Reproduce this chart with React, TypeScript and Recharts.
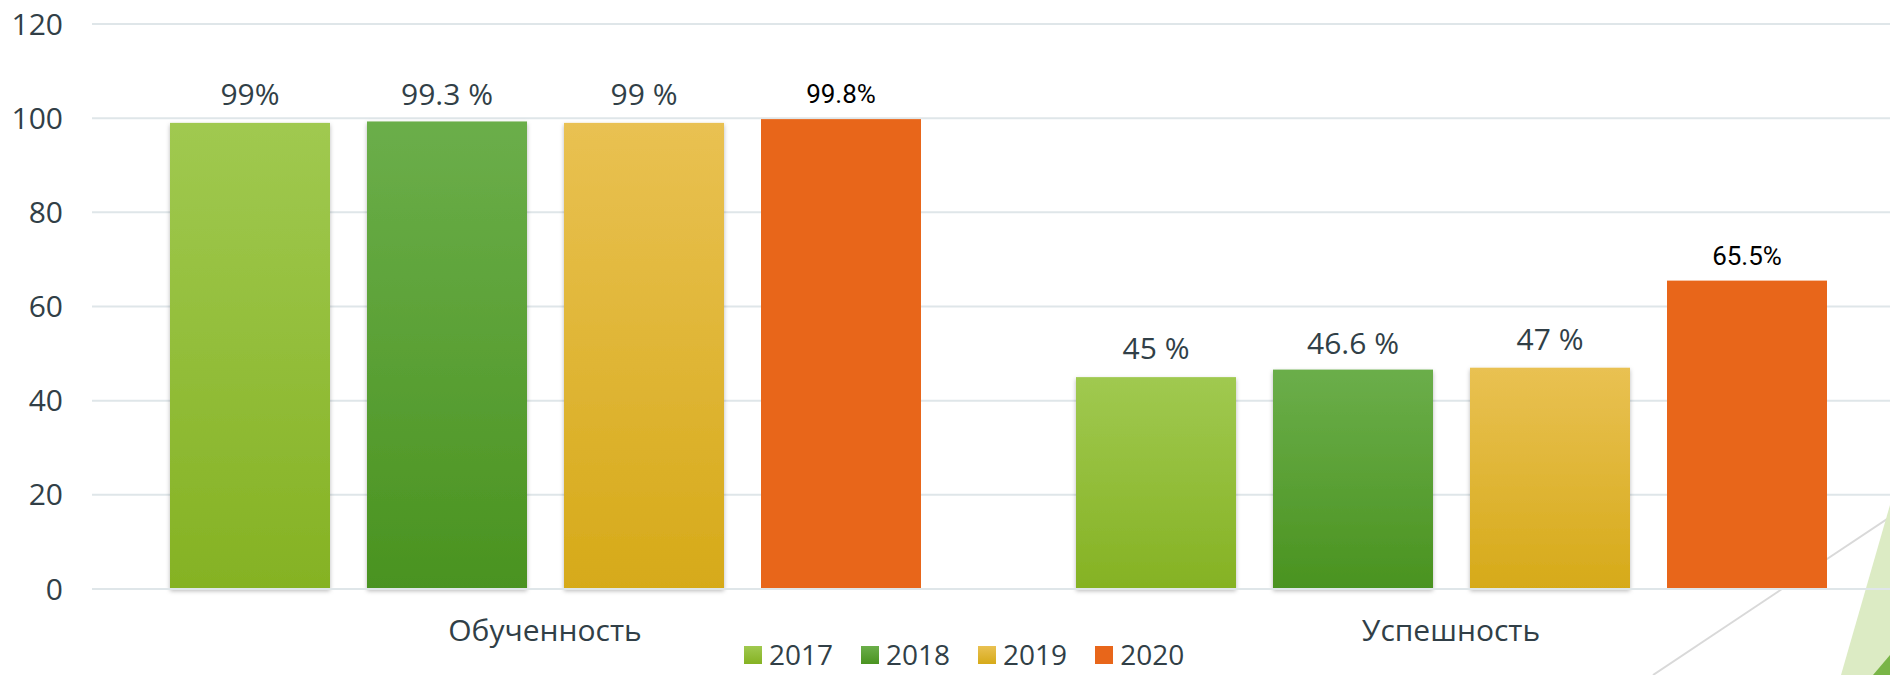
import React from "react";
import { BarChart, Bar, XAxis, YAxis, CartesianGrid, LabelList, Legend } from "recharts";

const categories = ["Обученность", "Успешность"];
const years = ["2017", "2018", "2019", "2020"];
const values2017 = [99, 45];
const values2018 = [99.3, 46.6];
const values2019 = [99, 47];
const values2020 = [99.8, 65.5];
const labels2017 = ["99%", "45 %"];
const labels2018 = ["99.3 %", "46.6 %"];
const labels2019 = ["99 %", "47 %"];
const labels2020 = ["99.8%", "65.5%"];
const yTicks = [0, 20, 40, 60, 80, 100, 120];

const gradients: Record<string, [string, string]> = {
  "2017": ["#a0c950", "#85b223"],
  "2018": ["#6bae4a", "#4a9320"],
  "2019": ["#e9c152", "#d6aa19"],
  "2020": ["#e8661a", "#e8661a"],
};

const data = categories.map((c, i) => ({
  cat: c,
  v2017: values2017[i],
  v2018: values2018[i],
  v2019: values2019[i],
  v2020: values2020[i],
  l2017: labels2017[i],
  l2018: labels2018[i],
  l2019: labels2019[i],
  l2020: labels2020[i],
}));

const TEXT = "#313f47";
const FONT = "'Open Sans', sans-serif";

const makeShape = (shadow: boolean, id: string) => (props: any) => {
  const { x, y, width, height } = props;
  return (
    <rect
      x={x}
      y={y}
      width={width}
      height={height}
      fill={`url(#grad${id})`}
      filter={shadow ? "url(#barShadow)" : undefined}
    />
  );
};

const LegendContent = () => (
  <div style={{ display: "flex", alignItems: "center", height: 28, fontFamily: FONT, fontSize: 28, color: TEXT }}>
    {years.map((y, i) => (
      <div key={y} style={{ display: "flex", alignItems: "center", height: 28, marginRight: i < years.length - 1 ? 28 : 0 }}>
        <div
          style={{
            width: 18,
            height: 18,
            marginRight: 7,
            marginTop: 2,
            background: `linear-gradient(${gradients[y][0]}, ${gradients[y][1]})`,
          }}
        />
        <div style={{ lineHeight: "28px", height: 28 }}>{y}</div>
      </div>
    ))}
  </div>
);

export default function App() {
  return (
    <div style={{ position: "fixed", left: 0, top: 0, width: 1890, height: 675, overflow: "hidden", background: "#fff" }}>
      <svg width={1890} height={675} style={{ position: "absolute", left: 0, top: 0 }}>
        <line x1={1653} y1={675} x2={1890} y2={517} stroke="#d9d9d9" strokeWidth={2} />
        <polygon points="1841,675 1890,505 1890,675" fill="#dcebc4" />
        <polygon points="1873,675 1890,655 1890,675" fill="#79b547" />
      </svg>
      <div style={{ position: "absolute", left: 0, top: 0 }}>
        <BarChart
          width={1904}
          height={675}
          data={data}
          margin={{ top: 24, right: 0, bottom: 0, left: 0 }}
          barSize={160}
          barGap={37}
        >
          <defs>
            {years.map((y) => (
              <linearGradient key={y} id={`grad${y}`} x1="0" y1="0" x2="0" y2="1">
                <stop offset="0%" stopColor={gradients[y][0]} />
                <stop offset="100%" stopColor={gradients[y][1]} />
              </linearGradient>
            ))}
            <filter id="barShadow" x="-10%" y="-10%" width="120%" height="120%">
              <feDropShadow dx="0" dy="2" stdDeviation="2" floodColor="#000" floodOpacity="0.28" />
            </filter>
          </defs>
          <CartesianGrid vertical={false} stroke="#dfe6e9" strokeWidth={2} />
          <XAxis
            dataKey="cat"
            height={56}
            axisLine={{ stroke: "#dfe6e9", strokeWidth: 2 }}
            tickLine={false}
            tickSize={0}
            tickMargin={31}
            tick={{ fill: TEXT, fontSize: 30, fontFamily: FONT }}
          />
          <YAxis
            width={92}
            domain={[0, 120]}
            ticks={yTicks}
            axisLine={false}
            tickLine={false}
            tickSize={0}
            tickMargin={29}
            tick={{ fill: TEXT, fontSize: 30, fontFamily: FONT }}
          />
          <Legend
            verticalAlign="bottom"
            height={30}
            content={<LegendContent />}
            wrapperStyle={{ left: 744, top: 640, width: "auto" }}
          />
          <Bar dataKey="v2017" name="2017" fill={gradients["2017"][1]} isAnimationActive={false} shape={makeShape(true, "2017")}>
            <LabelList dataKey="l2017" position="top" offset={18} fill={TEXT} fontSize={30} fontFamily={FONT} />
          </Bar>
          <Bar dataKey="v2018" name="2018" fill={gradients["2018"][1]} isAnimationActive={false} shape={makeShape(true, "2018")}>
            <LabelList dataKey="l2018" position="top" offset={16} fill={TEXT} fontSize={30} fontFamily={FONT} />
          </Bar>
          <Bar dataKey="v2019" name="2019" fill={gradients["2019"][1]} isAnimationActive={false} shape={makeShape(true, "2019")}>
            <LabelList dataKey="l2019" position="top" offset={18} fill={TEXT} fontSize={30} fontFamily={FONT} />
          </Bar>
          <Bar dataKey="v2020" name="2020" fill={gradients["2020"][1]} isAnimationActive={false} shape={makeShape(false, "2020")}>
            <LabelList dataKey="l2020" position="top" offset={16} fill="#000" fontSize={26} fontFamily="Roboto, sans-serif" />
          </Bar>
        </BarChart>
      </div>
    </div>
  );
}
